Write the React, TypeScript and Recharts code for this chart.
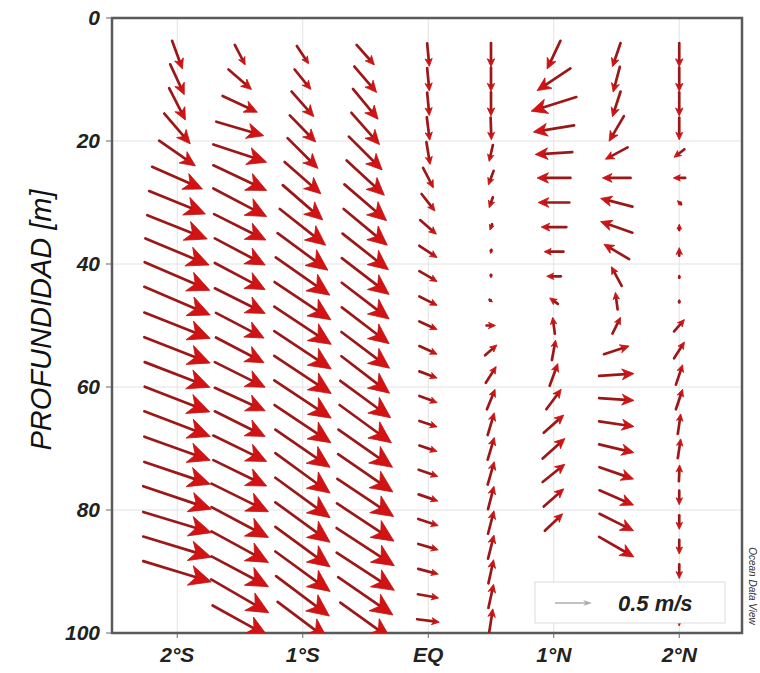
import { CartesianGrid, ReferenceArea, Scatter, ScatterChart, XAxis, YAxis } from "recharts";

const FONT = "'Liberation Sans', Arial, sans-serif";

const DEPTHS = [6, 10, 14, 18, 22, 26, 30, 34, 38, 42, 46, 50, 54, 58, 62, 66, 70, 74, 78, 82, 86, 90, 94, 98];
const STATIONS = [-2, -1.5, -1, -0.5, 0, 0.5, 1, 1.5, 2];
const LAT_TICKS = [-2, -1, 0, 1, 2];
const LAT_LABELS = ["2°S", "1°S", "EQ", "1°N", "2°N"];
const DEPTH_TICKS = [0, 20, 40, 60, 80, 100];

// velocity components in m/s, from DEPTHS[0] downward; u > 0 to the right, v > 0 upward on the plot
const U_2S = [0.14, 0.19, 0.22, 0.35, 0.49, 0.68, 0.76, 0.81, 0.86, 0.88, 0.89, 0.89, 0.89, 0.88, 0.88, 0.89, 0.89, 0.89, 0.92, 0.92, 0.92, 0.92];
const V_2S = [-0.38, -0.41, -0.43, -0.41, -0.34, -0.3, -0.31, -0.32, -0.36, -0.38, -0.38, -0.35, -0.35, -0.34, -0.34, -0.34, -0.32, -0.3, -0.31, -0.28, -0.28, -0.28];
const U_15S = [0.14, 0.31, 0.47, 0.64, 0.72, 0.72, 0.72, 0.7, 0.68, 0.68, 0.68, 0.65, 0.65, 0.68, 0.68, 0.68, 0.72, 0.72, 0.77, 0.77, 0.77, 0.77, 0.78, 0.74];
const V_15S = [-0.27, -0.27, -0.22, -0.19, -0.24, -0.34, -0.38, -0.35, -0.36, -0.36, -0.34, -0.34, -0.34, -0.34, -0.31, -0.34, -0.35, -0.35, -0.38, -0.41, -0.42, -0.41, -0.45, -0.41];
const U_1S = [0.16, 0.22, 0.3, 0.35, 0.41, 0.49, 0.54, 0.62, 0.68, 0.73, 0.76, 0.77, 0.77, 0.77, 0.77, 0.76, 0.74, 0.74, 0.74, 0.74, 0.74, 0.74, 0.72, 0.68];
const V_1S = [-0.24, -0.27, -0.34, -0.36, -0.41, -0.43, -0.47, -0.49, -0.5, -0.51, -0.51, -0.51, -0.51, -0.51, -0.51, -0.51, -0.51, -0.54, -0.54, -0.54, -0.54, -0.54, -0.54, -0.51];
const U_05S = [0.24, 0.3, 0.34, 0.38, 0.45, 0.51, 0.57, 0.59, 0.62, 0.64, 0.64, 0.64, 0.65, 0.65, 0.68, 0.7, 0.73, 0.74, 0.76, 0.77, 0.78, 0.78, 0.74, 0.68];
const V_05S = [-0.27, -0.35, -0.41, -0.43, -0.45, -0.47, -0.49, -0.49, -0.49, -0.49, -0.49, -0.49, -0.49, -0.5, -0.5, -0.51, -0.51, -0.51, -0.51, -0.51, -0.51, -0.51, -0.51, -0.49];
const U_EQ = [0.03, 0.03, 0.03, 0.04, 0.05, 0.14, 0.18, 0.22, 0.24, 0.24, 0.24, 0.24, 0.24, 0.24, 0.24, 0.24, 0.24, 0.26, 0.26, 0.27, 0.27, 0.27, 0.28, 0.3];
const V_EQ = [-0.31, -0.31, -0.31, -0.31, -0.3, -0.27, -0.23, -0.19, -0.16, -0.14, -0.12, -0.11, -0.11, -0.09, -0.09, -0.08, -0.08, -0.09, -0.09, -0.09, -0.08, -0.07, -0.05, -0.04];
const U_05N = [0, 0, 0, 0.01, -0.05, -0.07, -0.05, -0.03, -0.01, 0, 0.04, 0.12, 0.16, 0.14, 0.11, 0.09, 0.09, 0.09, 0.08, 0.08, 0.08, 0.07, 0.07, 0.05];
const V_05N = [-0.32, -0.32, -0.32, -0.3, -0.22, -0.19, -0.14, -0.08, -0.05, -0.04, -0.03, 0, 0.14, 0.22, 0.27, 0.3, 0.3, 0.31, 0.31, 0.31, 0.32, 0.32, 0.32, 0.32];
const U_1N = [-0.18, -0.45, -0.61, -0.55, -0.5, -0.45, -0.42, -0.34, -0.26, -0.19, -0.11, -0.03, 0.05, 0.11, 0.2, 0.27, 0.3, 0.3, 0.27, 0.24];
const V_1N = [-0.38, -0.3, -0.19, -0.09, -0.03, 0, 0, 0, 0, 0, 0.08, 0.22, 0.27, 0.3, 0.27, 0.24, 0.27, 0.24, 0.24, 0.23];
const U_15N = [-0.11, -0.09, -0.11, -0.2, -0.3, -0.38, -0.43, -0.43, -0.34, -0.14, -0.03, 0.11, 0.34, 0.47, 0.47, 0.47, 0.47, 0.46, 0.46, 0.46, 0.47];
const V_15N = [-0.32, -0.34, -0.34, -0.34, -0.16, 0, 0.11, 0.15, 0.2, 0.26, 0.23, 0.22, 0.11, 0.03, -0.03, -0.07, -0.11, -0.16, -0.2, -0.23, -0.27];
const U_2N = [0, 0, 0, 0, -0.14, -0.16, -0.05, 0, 0, 0, 0, 0.14, 0.14, 0.09, 0.09, 0.04, 0.04, 0.01, 0, 0, 0, 0, 0, 0];
const V_2N = [-0.32, -0.32, -0.32, -0.3, -0.11, 0, 0.05, 0.08, 0.11, 0.04, 0.04, 0.16, 0.22, 0.27, 0.27, 0.27, 0.26, 0.22, -0.19, -0.19, -0.19, -0.19, -0.16, -0.14];

const U_ALL = [U_2S, U_15S, U_1S, U_05S, U_EQ, U_05N, U_1N, U_15N, U_2N];
const V_ALL = [V_2S, V_15S, V_1S, V_05S, V_EQ, V_05N, V_1N, V_15N, V_2N];

const REF_SPEED = 0.5;
const PX_PER_MS = 74;

const points = STATIONS.flatMap((lat, i) =>
  U_ALL[i].map((u, k) => ({ lat, depth: DEPTHS[k], u, v: V_ALL[i][k] }))
);

function Arrow(props: any) {
  const { cx, cy, payload } = props;
  const ax = payload.u * PX_PER_MS;
  const ay = -payload.v * PX_PER_MS;
  const len = Math.hypot(ax, ay);
  if (!len) return <circle cx={cx} cy={cy} r={2} fill="#c81414" />;
  const ux = ax / len, uy = ay / len;
  const px = -uy, py = ux;
  const tx = cx - ax / 2, ty = cy - ay / 2;
  const hx = cx + ax / 2, hy = cy + ay / 2;
  const h = Math.min(Math.max(len * 0.34, 7), 22, len * 0.85);
  const w = h * 0.46;
  const bx = hx - ux * h, by = hy - uy * h;
  const nx = hx - ux * h * 0.72, ny = hy - uy * h * 0.72;
  const head = `${hx},${hy} ${bx + px * w},${by + py * w} ${nx},${ny} ${bx - px * w},${by - py * w}`;
  return (
    <g>
      <line x1={tx} y1={ty} x2={nx} y2={ny} stroke="#9c1818" strokeWidth={2.7} strokeLinecap="round" />
      <polygon points={head} fill="#d31313" stroke="#c01010" strokeWidth={0.8} strokeLinejoin="round" />
    </g>
  );
}

const tickStyle = { fontSize: 21, fontWeight: 700, fontStyle: "italic", fill: "#222", fontFamily: FONT };

export default function App() {
  const refLen = REF_SPEED * PX_PER_MS;
  return (
    <div style={{ position: "relative", width: 760, height: 673, background: "#fff" }}>
      <style>{"body{margin:0}"}</style>
      <ScatterChart width={760} height={673} margin={{ top: 18, right: 18, bottom: 0, left: 0 }}>
        <CartesianGrid stroke="#e2e2e2" />
        <XAxis
          dataKey="lat" type="number" domain={[-2.52, 2.5]} ticks={LAT_TICKS}
          tickFormatter={(v: number) => LAT_LABELS[LAT_TICKS.indexOf(v)] ?? ""}
          height={40} axisLine={false} tickSize={5} tickMargin={9}
          tickLine={{ stroke: "#666" }} tick={tickStyle} allowDataOverflow
        />
        <YAxis
          dataKey="depth" type="number" domain={[0, 100]} ticks={DEPTH_TICKS} reversed
          width={112} axisLine={false} tickSize={6} tickMargin={6}
          tickLine={{ stroke: "#666" }} tick={tickStyle} allowDataOverflow
        />
        <ReferenceArea x1={-2.52} x2={2.5} y1={0} y2={100} fill="none" stroke="#5a5a5a" strokeWidth={2.5} />
        <Scatter data={points} shape={Arrow} isAnimationActive={false} />
      </ScatterChart>
      <svg width={760} height={673} style={{ position: "absolute", left: 0, top: 0, pointerEvents: "none" }}>
        <text
          transform="translate(41,320) rotate(-90)" textAnchor="middle" dominantBaseline="central"
          fontFamily={FONT} fontStyle="italic" fontSize={29} fill="#111"
        >
          PROFUNDIDAD [m]
        </text>
        <rect x={535} y={582} width={190} height={41} fill="#fff" stroke="#dcdcdc" strokeWidth={1} />
        <line x1={555} y1={603} x2={555 + refLen - 6} y2={603} stroke="#999" strokeWidth={1.2} />
        <polygon points={`${555 + refLen},603 ${555 + refLen - 9},600 ${555 + refLen - 6},603 ${555 + refLen - 9},606`} fill="#aaa" />
        <text x={618} y={611} fontFamily={FONT} fontWeight={700} fontStyle="italic" fontSize={22} fill="#222">
          0.5 m/s
        </text>
        <text
          transform="translate(752,586) rotate(90)" textAnchor="middle" dominantBaseline="central"
          fontFamily={FONT} fontStyle="italic" fontSize={10} fill="#333"
        >
          Ocean Data View
        </text>
      </svg>
    </div>
  );
}
